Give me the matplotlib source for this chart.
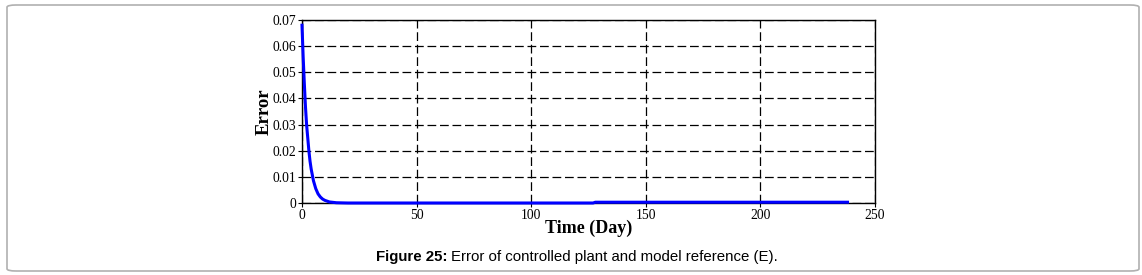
import numpy as np
import matplotlib

matplotlib.use('Agg')
import matplotlib.pyplot as plt
from matplotlib.patches import FancyBboxPatch

# values
time_day = [0, 0.5, 1, 1.5, 2, 2.5, 3, 3.5, 4, 5, 6, 7, 8, 9, 10, 12, 15, 20,
            60, 127, 128, 238]
error = [0.068, 0.056, 0.046, 0.037, 0.030, 0.025, 0.020, 0.016, 0.013,
         0.0085, 0.0055, 0.0035, 0.0023, 0.0015, 0.001, 0.0004, 0.0001, 0.0,
         0.0, 0.0, 0.0003, 0.0003]
x_ticks = [0, 50, 100, 150, 200, 250]
y_ticks = [0, 0.01, 0.02, 0.03, 0.04, 0.05, 0.06, 0.07]
y_tick_labels = ['0', '0.01', '0.02', '0.03', '0.04', '0.05', '0.06', '0.07']

fig = plt.figure(figsize=(11.42, 2.75), dpi=100)

box = FancyBboxPatch((7 / 1142, 4 / 275), 1132 / 1142, 266 / 275,
                     boxstyle='round,pad=0,rounding_size=0.008',
                     transform=fig.transFigure, facecolor='none',
                     edgecolor='#b0b0b0', linewidth=1.2, zorder=-1)
fig.patches.append(box)

ax = fig.add_axes([302 / 1142, 1 - 203 / 275, 573 / 1142, 183 / 275])
ax.plot(time_day, error, color='#0000ff', linewidth=2.2, zorder=3,
        clip_on=False)
ax.set_xlim(0, 250)
ax.set_ylim(0, 0.07)
ax.set_xticks(x_ticks)
ax.set_yticks(y_ticks)
ax.set_yticklabels(y_tick_labels)
ax.grid(True, color='black', linestyle=(0, (7, 3)), linewidth=0.9)
ax.set_axisbelow(True)
for s in ax.spines.values():
    s.set_linewidth(1.0)
ax.tick_params(direction='out', length=3, width=0.8, pad=1,
               labelsize=9.8, labelfontfamily='Liberation Serif')
ax.set_xlabel('Time (Day)', fontfamily='Liberation Serif', fontweight='bold',
              fontsize=13, labelpad=-1)
ax.set_ylabel('Error', fontfamily='Liberation Serif', fontweight='bold',
              fontsize=13.5, labelpad=0)

fig.text(447 / 1142, 1 - 257 / 275, 'Figure 25:', ha='right', va='center',
         fontfamily='Liberation Sans', fontweight='bold', fontsize=10.8)
fig.text(451 / 1142, 1 - 257 / 275, 'Error of controlled plant and model reference (E).',
         ha='left', va='center', fontfamily='Liberation Sans', fontsize=10.8)

plt.savefig('out.png', dpi=100)
